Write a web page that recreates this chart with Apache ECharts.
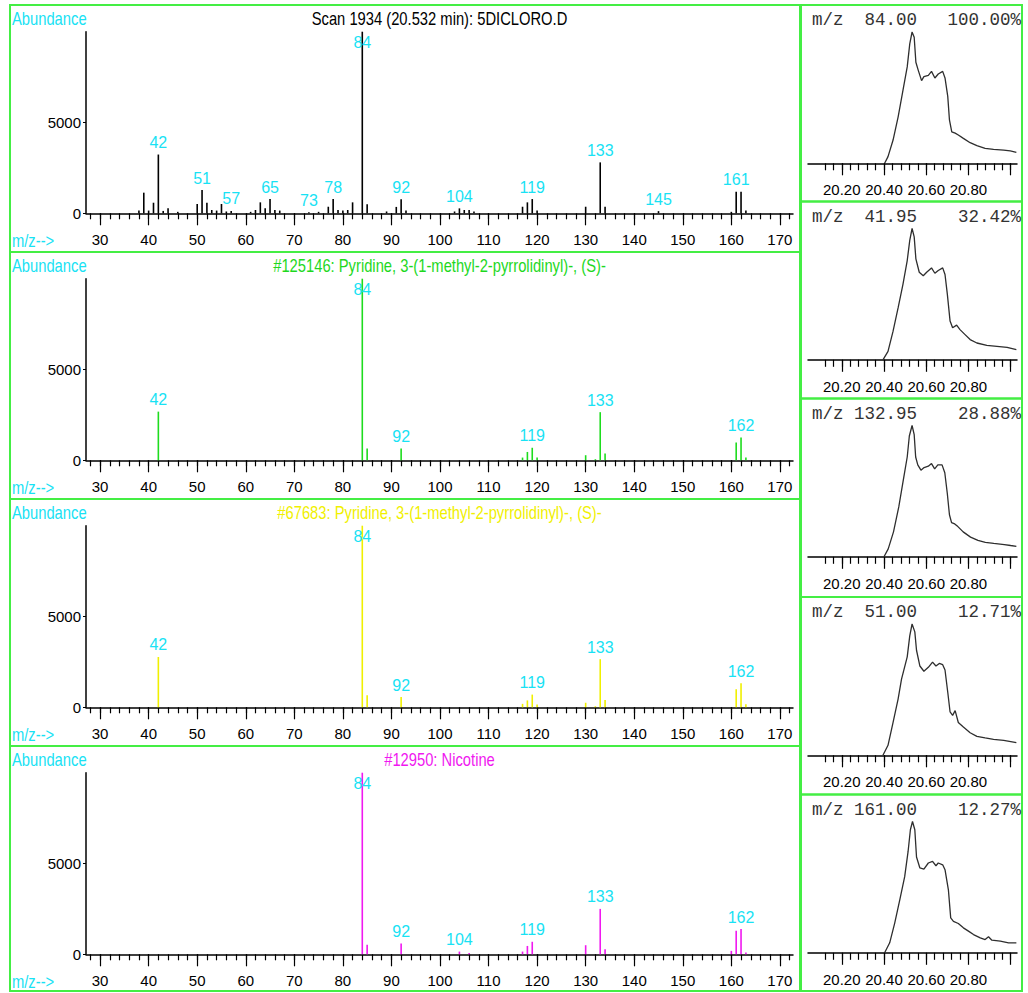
<!DOCTYPE html>
<html>
<head>
<meta charset="utf-8">
<title>Scan 1934 library comparison</title>
<script src="https://cdn.jsdelivr.net/npm/echarts@6.0.0/dist/echarts.min.js"></script>
<style>
html,body{margin:0;padding:0;background:#ffffff;}
#chart{width:1028px;height:993px;}
</style>
</head>
<body>
<div id="chart"></div>
<script>
// ------------------------------------------------------------------ data
const mzTickLabels = [30, 40, 50, 60, 70, 80, 90, 100, 110, 120, 130, 140, 150, 160, 170];
const abundanceTickLabels = [0, 5000];
const timeTickLabels = [20.20, 20.40, 20.60, 20.80];
const timeLongTicks = [20.20, 20.40, 20.60, 20.80, 21.00];

const panelTitles = [
  'Scan 1934 (20.532 min): 5DICLORO.D',
  '#125146: Pyridine, 3-(1-methyl-2-pyrrolidinyl)-, (S)-',
  '#67683: Pyridine, 3-(1-methyl-2-pyrrolidinyl)-, (S)-',
  '#12950: Nicotine'
];

// sample scan
const scanMz = [38,39,40,41,42,43,44,46,50,51,52,53,54,55,56,57,61,62,63,64,65,66,67,73,75,77,78,79,80,81,82,84,85,89,91,92,93,103,104,105,106,107,117,118,119,120,130,133,134,145,160,161,162,163];
const scanAbundance = [150,1130,150,580,3220,130,270,80,510,1270,580,180,150,510,100,130,80,180,600,270,780,180,150,60,80,360,780,180,150,180,600,9950,490,100,350,770,150,100,270,180,180,100,360,600,780,150,360,2790,360,120,80,1180,1180,150];
const scanLabelled = [42,51,57,65,73,78,84,92,104,119,133,145,161];

// library #125146
const lib125146Mz = [42,84,85,92,117,118,119,120,130,132,133,134,161,162,163];
const lib125146Abundance = [2680,9999,650,650,150,460,690,150,280,60,2650,370,980,1260,150];
const lib125146Labelled = [42,84,92,119,133,162];

// library #67683
const lib67683Mz = [42,84,85,92,117,118,119,120,130,132,133,134,161,162,163];
const lib67683Abundance = [2770,9999,660,565,190,380,700,150,250,60,2650,400,1000,1320,170];
const lib67683Labelled = [42,84,92,119,133,162];

// library #12950 Nicotine
const lib12950Mz = [84,85,92,104,106,117,118,119,130,133,134,160,161,162,163];
const lib12950Abundance = [9999,520,590,150,70,150,460,690,500,2500,280,190,1300,1390,100];
const lib12950Labelled = [84,92,104,119,133,162];

// extracted ion chromatograms
const ticIons = ['84.00', '41.95', '132.95', '51.00', '161.00'];
const ticPercent = ['100.00%', '32.42%', '28.88%', '12.71%', '12.27%'];

const eic84Time = [20.403,20.419,20.443,20.467,20.490,20.510,20.522,20.533,20.543,20.551,20.562,20.578,20.589,20.610,20.625,20.641,20.657,20.678,20.689,20.702,20.710,20.721,20.737,20.752,20.776,20.808,20.840,20.879,20.919,20.967,20.998,21.027];
const eic84Rel = [0,5.1,17.7,35.4,55.7,73.4,91,100,96,77,71,63,66,67,70,65,68,70,65,51,33,24,23,21.5,19,15.7,13.4,11.4,10.6,10,9.4,8.4];

const eic42Time = [20.395,20.419,20.443,20.467,20.490,20.510,20.522,20.533,20.543,20.551,20.567,20.586,20.602,20.625,20.641,20.657,20.678,20.689,20.700,20.713,20.725,20.744,20.760,20.784,20.808,20.840,20.887,20.935,20.983,21.027];
const eic42Rel = [0,6.4,21.8,39.7,57.7,75.6,91,100,93.6,76.9,66.7,64,66.7,70,65.9,68,70,65,50,29.5,24.4,26.4,23,19.2,15.4,12.8,11,10.3,9.5,7.7];

const eic133Time = [20.400,20.420,20.445,20.470,20.490,20.510,20.520,20.533,20.543,20.550,20.560,20.575,20.590,20.610,20.625,20.640,20.655,20.675,20.688,20.700,20.710,20.720,20.735,20.750,20.775,20.810,20.845,20.880,20.920,20.970,21.000,21.027];
const eic133Rel = [0,6,19,38,57,76,92,100,93,76,70,66,68,69,71,67,70,70,64,48,32,26,25,23,19,15,12.5,11,10.2,9.3,8.6,8];

const eic51Time = [20.395,20.419,20.443,20.467,20.483,20.510,20.522,20.533,20.546,20.554,20.570,20.589,20.610,20.630,20.646,20.662,20.678,20.689,20.702,20.713,20.725,20.737,20.752,20.776,20.808,20.840,20.879,20.919,20.967,21.027];
const eic51Rel = [0,7.6,25,43,58,75,91,100,94,80,68,64,67,71,68,70,69,65,48,33,30.4,34,25,21.5,17.2,14.4,13.2,12.2,11.4,9.6];

const eic161Time = [20.403,20.427,20.451,20.475,20.498,20.514,20.525,20.535,20.546,20.554,20.570,20.589,20.610,20.630,20.646,20.657,20.678,20.689,20.705,20.716,20.729,20.752,20.776,20.800,20.824,20.856,20.879,20.895,20.911,20.951,20.990,21.027];
const eic161Rel = [0,7.6,22.8,40.5,58,77,93.7,100,93.7,73,64.6,63.8,68.4,69.6,66.3,68.4,67,63.3,48,26.6,24,22.3,19,16.5,13.9,11.4,10.1,12.2,9.6,8.9,7.6,7.6];

// ------------------------------------------------------------------ layout / style
const SANS = "'Liberation Sans', Arial, sans-serif";
const MONO = "'Liberation Mono', 'DejaVu Sans Mono', monospace";
const FS = 15;          // axis / peak labels
const TFS = 18;         // panel texts (drawn narrowed)
const NARROW = 0.82;
const CYAN = '#18e2f4';
const FRAME = '#44ee44';
const MZ_MIN = 27.1, MZ_MAX = 172.7;
const T_MIN = 20.04, T_MAX = 21.03;

const mzMinorTicks = [];
for (let v = 28; v <= 172; v += 2) mzMinorTicks.push(v);
const timeMinorTicks = [];
for (let k = 0; k <= 22; k++) timeMinorTicks.push(Number((20.12 + 0.04 * k).toFixed(2)));

const leftTops = [5, 252, 499, 746];
const rightTops = [5, 201.5, 398.5, 597, 794.5];
const spectra = [
  { mz: scanMz, ab: scanAbundance, lab: scanLabelled, color: '#000000', titleColor: '#000000' },
  { mz: lib125146Mz, ab: lib125146Abundance, lab: lib125146Labelled, color: '#1edc1e', titleColor: '#1ed81e' },
  { mz: lib67683Mz, ab: lib67683Abundance, lab: lib67683Labelled, color: '#f0f000', titleColor: '#f0f000' },
  { mz: lib12950Mz, ab: lib12950Abundance, lab: lib12950Labelled, color: '#f018f0', titleColor: '#f018f0' }
];
const eics = [
  [eic84Time, eic84Rel], [eic42Time, eic42Rel], [eic133Time, eic133Rel], [eic51Time, eic51Rel], [eic161Time, eic161Rel]
];

const grids = [], xAxes = [], yAxes = [], series = [], elements = [];

function bottomAxes(gi, min, max, minorTicks, majorTicks, labelTicks, fmt, majorLen, minorLen) {
  xAxes.push({
    type: 'value', gridIndex: gi, position: 'bottom', min: min, max: max,
    axisLine: { show: true, onZero: false, lineStyle: { color: '#000', width: 1.5 } },
    axisTick: { show: true, customValues: minorTicks, length: minorLen, lineStyle: { color: '#000', width: 1.2 } },
    axisLabel: { show: false }, splitLine: { show: false }
  });
  xAxes.push({
    type: 'value', gridIndex: gi, position: 'bottom', min: min, max: max,
    axisLine: { show: false, onZero: false },
    axisTick: { show: true, customValues: majorTicks, length: majorLen, lineStyle: { color: '#000', width: 1.2 } },
    axisLabel: { show: true, customValues: labelTicks, margin: 19, color: '#000', fontSize: FS, fontFamily: SANS,
      formatter: fmt, showMinLabel: true, showMaxLabel: true, hideOverlap: false },
    splitLine: { show: false }
  });
}

function panelText(x, y, text, color, align) {
  return { type: 'text', silent: true, x: x, y: y, scaleX: NARROW, scaleY: 1,
    style: { text: text, fill: color, fontSize: TFS, fontFamily: SANS, align: align, verticalAlign: 'middle' } };
}

// left: mass spectra
spectra.forEach((sp, i) => {
  const top = leftTops[i];
  grids.push({ left: 86, top: top + 26.7, width: 707, height: 181.6, containLabel: false, outerBoundsMode: 'none' });
  bottomAxes(i, MZ_MIN, MZ_MAX, mzMinorTicks, mzTickLabels, mzTickLabels, v => String(v), 12, 6);
  yAxes.push({
    type: 'value', gridIndex: i, min: 0, max: 'dataMax',
    axisLine: { show: true, onZero: false, lineStyle: { color: '#000', width: 1.5 } },
    axisTick: { show: true, customValues: abundanceTickLabels, length: 3, lineStyle: { color: '#000' } },
    axisLabel: { show: true, customValues: abundanceTickLabels, margin: 5, color: '#000', fontSize: FS, fontFamily: SANS,
      formatter: v => String(v), showMinLabel: true, showMaxLabel: true },
    splitLine: { show: false }
  });
  const maxVal = Math.max.apply(null, sp.ab);
  const data = sp.mz.map((m, k) => {
    const item = { value: [m, sp.ab[k]] };
    if (sp.lab.indexOf(m) >= 0) {
      const atTop = sp.ab[k] > 0.9 * maxVal;
      item.label = { show: true, position: atTop ? 'insideTop' : 'top', distance: atTop ? 3 : 4 };
    }
    return item;
  });
  series.push({
    type: 'bar', xAxisIndex: 2 * i, yAxisIndex: i, barWidth: 1.6, data: data,
    itemStyle: { color: sp.color },
    label: { show: false, color: CYAN, fontSize: 16, fontFamily: SANS, formatter: p => String(p.value[0]) },
    emphasis: { disabled: true }
  });
  elements.push({ type: 'rect', silent: true, shape: { x: 10, y: top, width: 790, height: (i < 3 ? leftTops[i + 1] : 991) - top },
    style: { fill: 'none', stroke: FRAME, lineWidth: 2 } });
  elements.push(panelText(12, top + 13, 'Abundance', CYAN, 'left'));
  elements.push(panelText(12, top + 235, 'm/z-->', CYAN, 'left'));
  elements.push(panelText(439.5, top + 13, panelTitles[i], sp.titleColor, 'center'));
});

// right: ion chromatograms
eics.forEach((e, j) => {
  const gi = 4 + j;
  const top = rightTops[j];
  grids.push({ left: 808, top: top + 27, width: 209, height: 131.3, containLabel: false, outerBoundsMode: 'none' });
  bottomAxes(gi, T_MIN, T_MAX, timeMinorTicks, timeLongTicks, timeTickLabels, v => v.toFixed(2), 12, 7);
  yAxes.push({ type: 'value', gridIndex: gi, min: 0, max: 100, show: false });
  series.push({
    type: 'line', xAxisIndex: 8 + 2 * j, yAxisIndex: gi, showSymbol: false, symbol: 'none',
    data: e[0].map((t, k) => [t, e[1][k]]),
    lineStyle: { color: '#2e2e2e', width: 1.3 }, emphasis: { disabled: true }
  });
  elements.push({ type: 'rect', silent: true, shape: { x: 801, y: top, width: 221, height: (j < 4 ? rightTops[j + 1] : 991) - top },
    style: { fill: 'none', stroke: FRAME, lineWidth: 2 } });
  elements.push({ type: 'text', silent: true, x: 812, y: top + 15,
    style: { text: 'm/z', fill: '#333', fontSize: 17.5, fontFamily: MONO, align: 'left', verticalAlign: 'middle' } });
  elements.push({ type: 'text', silent: true, x: 917, y: top + 15,
    style: { text: ticIons[j], fill: '#333', fontSize: 17.5, fontFamily: MONO, align: 'right', verticalAlign: 'middle' } });
  elements.push({ type: 'text', silent: true, x: 1021, y: top + 15,
    style: { text: ticPercent[j], fill: '#333', fontSize: 17.5, fontFamily: MONO, align: 'right', verticalAlign: 'middle' } });
});

const chart = echarts.init(document.getElementById('chart'), null, { renderer: 'svg', width: 1028, height: 993 });
chart.setOption({
  animation: false,
  backgroundColor: '#ffffff',
  tooltip: { show: false },
  grid: grids,
  xAxis: xAxes,
  yAxis: yAxes,
  series: series,
  graphic: { elements: elements }
});
</script>
</body>
</html>
